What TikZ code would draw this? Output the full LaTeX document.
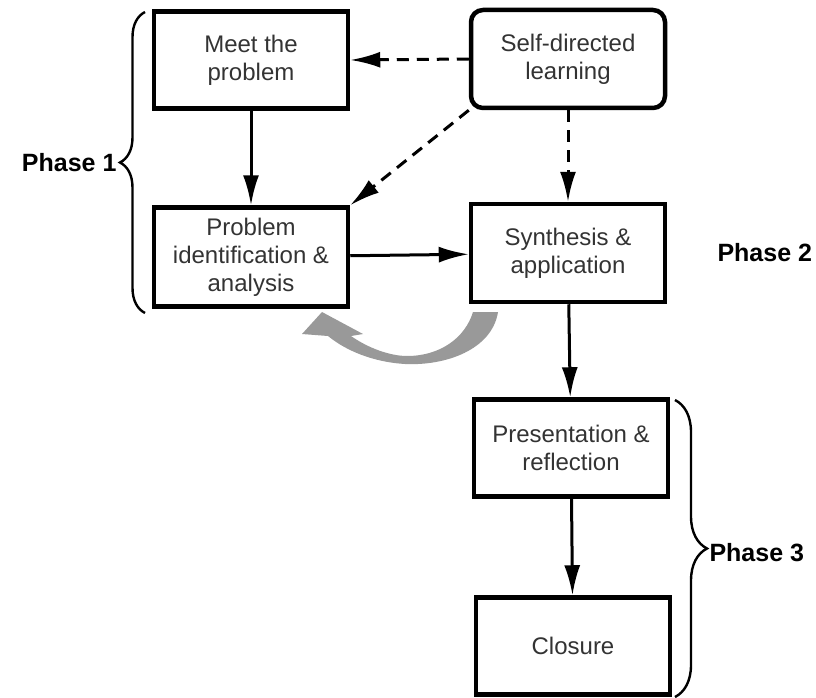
\documentclass[tikz,border=0pt]{standalone}
\usepackage{fontspec}
\setmainfont{Liberation Sans}
\usepackage{xcolor}
\usetikzlibrary{arrows, arrows.meta}
\usetikzlibrary{positioning}
\usetikzlibrary{decorations.pathreplacing}
\definecolor{loopgray}{gray}{0.6}
\newcommand{\boxfont}{\fontsize{24}{28}\selectfont}
\newcommand{\phasefont}{\fontsize{25}{30}\selectfont\bfseries}

\begin{document}
\begin{tikzpicture}[x=1pt,y=-1pt,
		stagebox/.style={draw, line width=4.5pt, minimum width=194pt, minimum height=97pt, align=center, font=\boxfont, text=black!80},
		flow/.style={-{Latex[length=30pt,width=16pt]}, line width=3pt},
		dflow/.style={flow, dash pattern=on 12pt off 8pt},
		phasebrace/.style={decorate, line width=2.4pt}]
			\useasboundingbox (0,0) rectangle (816,698);
			% draw boxes
			\node[stagebox] (meet) at (251,60) {Meet the\\problem};
			\node[stagebox, rounded corners=12pt, minimum height=98pt] (self) at (568,59) {Self-directed\\learning};
			\node[stagebox, minimum height=99pt] (prob) at (251,257) {Problem\\identification \&\\analysis};
			\node[stagebox, minimum height=98pt] (syn) at (568,253) {Synthesis \&\\application};
			\node[stagebox] (pres) at (571,448) {Presentation \&\\reflection};
			\node[stagebox] (clos) at (573,646) {Closure};
			
			% add arrows
			\draw[flow] (meet) -- (prob);
			\draw[flow] (prob) -- (syn);
			\draw[flow] (syn) -- (pres);
			\draw[flow] (pres) -- (clos);
			\draw[dflow] (self.west) -- (meet.east);
			\draw[dflow] (self.south west) -- (prob.north east);
			\draw[dflow] (self) -- (syn);
			
			% back loop
			\fill[loopgray] (498,312) .. controls (492,350) and (445,366) .. (405,364)
				.. controls (372,362) and (345,350) .. (328,336)
				-- (302,334) -- (322,312) -- (363,334) -- (351,336)
				.. controls (368,348) and (390,356) .. (407,356)
				.. controls (440,356) and (465,338) .. (473,312) -- cycle;
			
			% phases
			\draw[phasebrace, decoration={brace, amplitude=25pt}] (145,313) -- (145,12);
			\node[font=\phasefont, anchor=east] (phase1) at (120,163) {Phase 1};
			\node[font=\phasefont, anchor=west] (phase2) at (714,253) {Phase 2};
			\draw[phasebrace, decoration={brace, amplitude=32pt}] (675,400) -- (675,697);
			\node[font=\phasefont, anchor=west] (phase3) at (706,553) {Phase 3};
		\end{tikzpicture}
\end{document}
